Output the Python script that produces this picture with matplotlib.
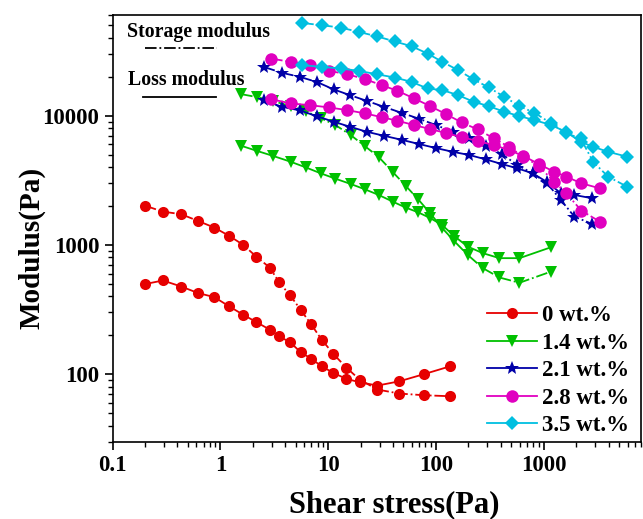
import matplotlib.pyplot as plt
from matplotlib.ticker import LogLocator, FixedLocator, NullFormatter

plt.rcParams['font.family'] = 'Liberation Serif'
plt.rcParams['font.weight'] = 'bold'

# shear stress (Pa) and moduli (Pa) for each loading
x_0 = [0.200, 0.293, 0.434, 0.620, 0.880, 1.21, 1.63, 2.15, 2.87, 3.52, 4.45,
       5.55, 6.92, 8.71, 11.2, 14.8, 19.6, 28.7, 45.9, 77.8, 136]
gp_0 = [2010, 1808, 1726, 1532, 1360, 1173, 1000, 812, 668, 512, 406,
        315, 244, 185, 143, 112, 90.7, 75.9, 70.7, 68.6, 67.4]
gpp_0 = [497, 530, 476, 424, 394, 334, 288, 253, 221, 196, 176,
         148, 132, 115, 102, 91.8, 86.5, 81.5, 88, 100, 115]

x_14 = [1.56, 2.21, 3.11, 4.48, 6.18, 8.51, 11.7, 16.2, 21.9, 29.5, 39.8,
        52.6, 68.0, 87.9, 114, 147, 197, 272, 388, 596, 1175]
gp_14 = [14660, 13890, 12940, 11840, 10830, 9570, 8450, 7070, 5810, 4780, 3660,
         2855, 2265, 1766, 1353, 1074, 837, 661, 559, 509, 622]
gpp_14 = [5845, 5320, 4866, 4400, 3981, 3580, 3250, 2958, 2692, 2432, 2159,
          1941, 1789, 1616, 1426, 1173, 970, 863, 789, 789, 960]

x_21 = [2.53, 3.75, 5.47, 7.94, 11.3, 15.96, 22.8, 33.0, 48.0, 69.9, 100,
        143, 204, 289, 408, 570, 787, 1062, 1443, 1923, 2808]
gp_21 = [23820, 21410, 19950, 18150, 15930, 14400, 13010, 11690, 10510, 9450, 8450,
         7500, 6670, 5845, 5045, 4147, 3580, 3027, 2226, 1654, 1453]
gpp_21 = [13100, 11690, 10970, 9860, 8960, 8200, 7500, 6980, 6500, 6025, 5610,
          5250, 4955, 4590, 4220, 3910, 3580, 3080, 2508, 2432, 2294]

x_28 = [2.96, 4.48, 6.77, 10.2, 15.1, 22.0, 31.4, 44.0, 62.8, 88.5, 124,
        173, 244, 344, 474, 649, 902, 1245, 1618, 2234, 3304]
gp_28 = [27660, 26020, 24550, 22180, 20910, 19140, 17210, 15550, 13580, 11840, 10270,
         8860, 7820, 6670, 5740, 4810, 4074, 3080, 2508, 1841, 1514]
gpp_28 = [13410, 12420, 12050, 11570, 11020, 10400, 9730, 9120, 8450, 7870, 7330,
          6820, 6350, 5920, 5420, 4866, 4220, 3680, 3370, 2995, 2740]

x_35 = [5.75, 8.83, 13.1, 19.4, 28.2, 41.4, 59.4, 83.7, 115, 161, 224,
        309, 432, 596, 820, 1175, 1618, 2199, 2870, 3955, 5940]
gp_35 = [52100, 50000, 47980, 44360, 41110, 37500, 34420, 30210, 26020, 22450, 19040,
         16510, 13970, 11840, 10510, 8710, 7290, 6670, 4400, 3370, 2820]
gpp_35 = [24550, 23820, 23160, 22180, 20910, 19720, 18240, 16220, 15740, 14400, 12790,
          11840, 10700, 9910, 9230, 8450, 7460, 6280, 5740, 5250, 4810]

labels = ['0 wt.%', '1.4 wt.%', '2.1 wt.%', '2.8 wt.%', '3.5 wt.%']
colors = ['#e60000', '#00c000', '#0000a8', '#e000c0', '#00bfe0']
markers = ['o', 'v', '*', 'o', 'D']
msizes = [8, 9, 10, 9, 7]

xs = [x_0, x_14, x_21, x_28, x_35]
gps = [gp_0, gp_14, gp_21, gp_28, gp_35]
gpps = [gpp_0, gpp_14, gpp_21, gpp_28, gpp_35]

fig = plt.figure(figsize=(6.43, 5.19), dpi=100)
ax = fig.add_axes([0.175, 0.149, 0.822, 0.822])

for x, gp, gpp, lab, c, m, ms in zip(xs, gps, gpps, labels, colors, markers, msizes):
    ax.plot(x, gp, linestyle='-.', color=c, marker=m, markersize=ms,
            markeredgewidth=0, lw=1.3)
    ax.plot(x, gpp, linestyle='-', color=c, marker=m, markersize=ms,
            markeredgewidth=0, lw=1.3, label=lab)

ax.set_xscale('log')
ax.set_yscale('log')
ax.set_xlim(0.1, 8000)
ax.set_ylim(30, 60000)

ax.xaxis.set_major_locator(FixedLocator([0.1, 1, 10, 100, 1000]))
ax.set_xticklabels(['0.1', '1', '10', '100', '1000'])
ax.xaxis.set_minor_locator(LogLocator(base=10, subs=range(2, 10)))
ax.xaxis.set_minor_formatter(NullFormatter())
ax.yaxis.set_major_locator(FixedLocator([100, 1000, 10000]))
ax.set_yticklabels(['100', '1000', '10000'])
ax.yaxis.set_minor_locator(LogLocator(base=10, subs=range(2, 10)))
ax.yaxis.set_minor_formatter(NullFormatter())

ax.tick_params(which='major', direction='out', length=6, width=1.2, labelsize=16.5)
ax.tick_params(which='minor', direction='out', length=3.5, width=1)
for s in ax.spines.values():
    s.set_linewidth(1.2)

ax.set_xlabel('Shear stress(Pa)', fontsize=22, fontweight='bold')
ax.set_ylabel('Modulus(Pa)', fontsize=21, fontweight='bold')
ax.xaxis.set_label_coords(0.533, -0.113)
ax.yaxis.set_label_coords(-0.126, 0.453)

# line-style key in the upper left corner
ax.text(0.027, 0.960, 'Storage modulus', transform=ax.transAxes, fontsize=14.3,
        fontweight='bold', va='center', ha='left')
ax.plot([0.061, 0.198], [0.923, 0.923], transform=ax.transAxes, color='black',
        linestyle='-.', lw=1.3)
ax.text(0.030, 0.848, 'Loss modulus', transform=ax.transAxes, fontsize=14.3,
        fontweight='bold', va='center', ha='left')
ax.plot([0.058, 0.196], [0.808, 0.808], transform=ax.transAxes, color='black',
        linestyle='-', lw=1.3)

ax.legend(loc='upper left', bbox_to_anchor=(0.708, 0.320), frameon=False,
          handlelength=2.2, handletextpad=0.2, labelspacing=0.28,
          borderpad=0, borderaxespad=0, prop={'weight': 'bold', 'size': 16.5})

fig.savefig('out.png', dpi=100)
